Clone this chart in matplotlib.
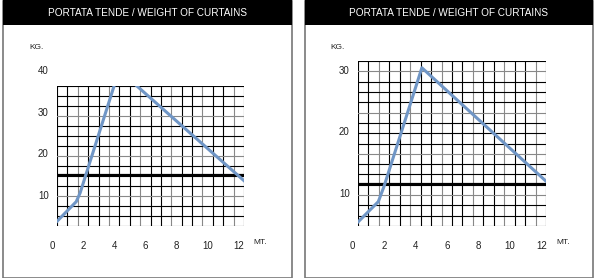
import matplotlib
matplotlib.use("Agg")
import matplotlib.pyplot as plt
from matplotlib.patches import Rectangle

plt.rcParams['font.family'] = ['Liberation Sans', 'DejaVu Sans']

W, H = 598, 278

# data (x in MT., y in KG.)
left_x = [0.3, 1.55, 1.8, 4.3, 12.3]
left_y = [3.7, 8.5, 10.6, 40.2, 13.6]
right_x = [0.37, 1.64, 2.0, 4.41, 12.29]
right_y = [5.5, 8.75, 11.2, 30.5, 12.1]

x_ticks = [0, 2, 4, 6, 8, 10, 12]
left_yticks = [10, 20, 30, 40]
right_yticks = [10, 20, 30]
left_thick = 15
right_thick = 11.6

title = "PORTATA TENDE / WEIGHT OF CURTAINS"

fig = plt.figure(figsize=(W / 100, H / 100), dpi=100)


def px_rect(x0, y0, x1, y1):
    # pixel box (top-left origin) -> figure fraction rect
    return [x0 / W, 1 - y1 / H, (x1 - x0) / W, (y1 - y0) / H]


def panel(box, grid, xlim, ylim, xs, ys, yticks, thick, ncols, nrows, kg_pos, mt_pos):
    bx0, bx1 = box
    # frame and title bar
    fig.add_artist(Rectangle((bx0 / W, 0.5 / H), (bx1 - bx0) / W, (H - 1.5) / H,
                             transform=fig.transFigure, fill=False,
                             edgecolor='#777777', lw=1.2))
    fig.add_artist(Rectangle((bx0 / W, 1 - 25 / H), (bx1 - bx0) / W, 25 / H,
                             transform=fig.transFigure, facecolor='black',
                             edgecolor='none'))
    fig.text((bx0 + bx1) / 2 / W, 1 - 13 / H, title, color='white',
             ha='center', va='center', fontsize=7.2)

    ax = fig.add_axes(px_rect(*grid))
    ax.set_xlim(*xlim)
    ax.set_ylim(*ylim)
    for s in ax.spines.values():
        s.set_visible(False)
    ax.set_xticks([])
    ax.set_yticks([])

    # square grid
    for i in range(ncols + 1):
        xv = xlim[0] + i * (xlim[1] - xlim[0]) / ncols
        c = '#888888' if i % 3 == 2 else 'black'
        ax.axvline(xv, color=c, lw=0.8, zorder=1)
    for j in range(nrows + 1):
        yv = ylim[0] + j * (ylim[1] - ylim[0]) / nrows
        c = '#888888' if j % 4 == 3 else 'black'
        ax.axhline(yv, color=c, lw=0.8, zorder=1)
    ax.axhline(thick, color='black', lw=1.6, zorder=2)

    ax.plot(xs, ys, color='#7096c6', lw=2.2, zorder=3, clip_on=True,
            solid_joinstyle='round')

    for t in x_ticks:
        ax.annotate(str(t), xy=(t, ylim[0]), xycoords='data',
                    xytext=(0, -14.4), textcoords='offset points',
                    ha='center', va='center', fontsize=7, color='#222222',
                    annotation_clip=False)
    for t in yticks:
        ax.annotate(str(t), xy=(xlim[0], t), xycoords='data',
                    xytext=(-6, 0), textcoords='offset points',
                    ha='right', va='center', fontsize=7, color='#222222',
                    annotation_clip=False)

    fig.text(kg_pos[0] / W, 1 - kg_pos[1] / H, "KG.", ha='left', va='center',
             fontsize=6, color='#222222')
    fig.text(mt_pos[0] / W, 1 - mt_pos[1] / H, "MT.", ha='left', va='center',
             fontsize=6, color='#222222')
    return ax


panel((3, 292), (57, 86, 244, 226), (0.32, 12.31), (2.65, 36.4),
      left_x, left_y, left_yticks, left_thick, 18, 14, (29, 47), (253, 243))
panel((304.5, 593), (358, 61, 546, 226), (0.35, 12.3), (4.8, 31.6),
      right_x, right_y, right_yticks, right_thick, 18, 16, (330, 47), (556, 243))

fig.savefig("out.png", dpi=100)
